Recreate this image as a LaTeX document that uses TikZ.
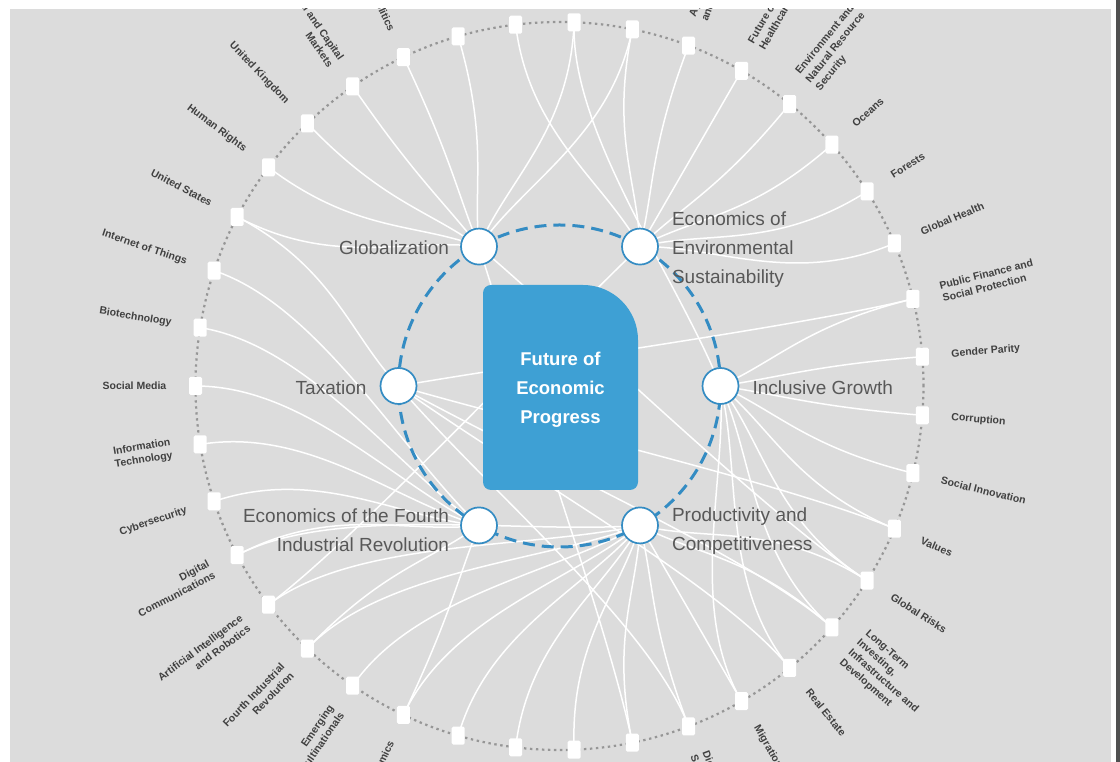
\documentclass[tikz,border=0pt]{standalone}
\usepackage{fontspec}
\setmainfont{Liberation Sans}
\usetikzlibrary{calc}
\definecolor{bg}{RGB}{220,220,220}
\definecolor{boxblue}{RGB}{62,160,212}
\definecolor{ringblue}{RGB}{52,140,195}
\definecolor{dotgray}{RGB}{150,150,150}
\definecolor{lbl}{RGB}{88,88,88}
\definecolor{olbl}{RGB}{64,64,64}
\definecolor{edge}{RGB}{80,80,80}
\begin{document}
\begin{tikzpicture}[x=1pt,y=1pt,
  conn/.style={white, line width=1.5pt},
  sq/.style={fill=white, draw=none, minimum width=13pt, minimum height=18pt, inner sep=0pt, rounded corners=1.5pt},
  hub/.style={circle, fill=white, draw=ringblue, line width=1.7pt, minimum size=36pt, inner sep=0pt},
  hublabel/.style={text=lbl, font=\fontsize{19}{29}\selectfont, inner sep=0pt},
  rlab/.style={text=olbl, font=\bfseries\fontsize{10.5}{13}\selectfont, inner sep=0pt, anchor=west, align=left},
  llab/.style={text=olbl, font=\bfseries\fontsize{10.5}{13}\selectfont, inner sep=0pt, anchor=east, align=right}]
\useasboundingbox (0,0) rectangle (1120,762);
\fill[white] (0,0) rectangle (1120,762);
\fill[bg] (10,0) rectangle (1111,753);
\fill[edge] (1116,0) rectangle (1120,762);

\coordinate (C) at (559.5,376);
\draw[dotgray, line width=2.2pt, dash pattern=on 2.4pt off 3.6pt] (C) circle[radius=364];

% outer squares positions
\foreach \k in {0,...,38}{
  \pgfmathsetmacro{\ang}{180-\k*360/39}
  \coordinate (s\k) at ($(C)+(\ang:364)$);
}
% hub positions
\coordinate (hG) at ($(C)+(120:161)$);
\coordinate (hE) at ($(C)+(60:161)$);
\coordinate (hI) at ($(C)+(0:161)$);
\coordinate (hP) at ($(C)+(-60:161)$);
\coordinate (hF) at ($(C)+(-120:161)$);
\coordinate (hT) at ($(C)+(180:161)$);

% connectors
\foreach \k/\h in {3/G,4/G,5/G,6/G,7/G,8/G,10/G,11/G,23/G,28/G,
  9/E,11/E,12/E,13/E,14/E,15/E,16/E,17/E,35/E,
  10/I,18/I,19/I,20/I,21/I,22/I,23/I,24/I,25/I,26/I,
  23/P,24/P,26/P,27/P,28/P,29/P,30/P,31/P,32/P,33/P,34/P,35/P,36/P,
  0/F,1/F,2/F,32/F,34/F,36/F,37/F,38/F,
  3/T,18/T,22/T,24/T,25/T,27/T}{
  \draw[conn] (s\k) .. controls ($(s\k)!0.3!(C)$) and ($(h\h)!0.3!(s\k)$) .. (h\h);
}

% squares
\foreach \k in {0,...,38}{
  \node[sq] (q\k) at (s\k) {};
}

% central box
\fill[boxblue] (483,469) -- (483,280) arc[start angle=180,end angle=270,radius=8]
  -- (630,272) arc[start angle=270,end angle=360,radius=8]
  -- (638,422) arc[start angle=0,end angle=90,radius=55]
  -- (491,477) arc[start angle=90,end angle=180,radius=8] -- cycle;
\node[text=white, font=\bfseries\fontsize{18.5}{29}\selectfont, align=center, inner sep=0pt] (core) at (560.5,372) {Future of\\Economic\\Progress};

% dashed ring
\draw[ringblue, line width=3pt, dash pattern=on 12pt off 7pt] (C) circle[radius=161];

% hubs
\node[hub] (G) at (hG) {};
\node[hub] (E) at (hE) {};
\node[hub] (I) at (hI) {};
\node[hub] (P) at (hP) {};
\node[hub] (F) at (hF) {};
\node[hub] (T) at (hT) {};

% hub labels
\node[hublabel, anchor=east] (lG) at ($(G.west)+(-11,-1.5)$) {Globalization};
\node[hublabel, anchor=west, align=left] (lE) at ($(E.east)+(13,-3)$) {Economics of\\Environmental\\Sustainability};
\node[hublabel, anchor=west] (lI) at ($(I.east)+(13,-2)$) {Inclusive Growth};
\node[hublabel, anchor=west, align=left] (lP) at ($(P.east)+(13,-5.5)$) {Productivity and\\Competitiveness};
\node[hublabel, anchor=east, align=right] (lF) at ($(F.west)+(-11,-4.5)$) {Economics of the Fourth\\Industrial Revolution};
\node[hublabel, anchor=east] (lT) at ($(T.west)+(-13,-2)$) {Taxation};

% outer labels
\begin{scope}
\clip (10,0) rectangle (1111,753);
\foreach \k/\t in {12/{Agriculture, Food\\and Beverage},13/{Future of Health and\\Healthcare},
  14/{Environment and\\Natural Resource\\Security},15/{Oceans},16/{Forests},17/{Global Health},
  18/{Public Finance and\\Social Protection},19/{Gender Parity},20/{Corruption},
  21/{Social Innovation},22/{Values},23/{Global Risks},
  24/{Long-Term\\Investing,\\Infrastructure and\\Development},25/{Real Estate},
  26/{Migration},27/{Digital Economy and\\Society}}{
  \pgfmathsetmacro{\ang}{180-\k*360/39}
  \node[rlab, rotate=\ang] (t\k) at ($(C)+(\ang:393)$) {\t};
}
\foreach \k/\t in {0/{Social Media},1/{Biotechnology},2/{Internet of Things},
  3/{United States},4/{Human Rights},5/{United Kingdom},
  6/{Financial and Capital\\Markets},7/{Geopolitics},
  32/{Geo-economics},33/{Emerging\\Multinationals},34/{Fourth Industrial\\Revolution},
  35/{Artificial Intelligence\\and Robotics},36/{Digital\\Communications},
  37/{Cybersecurity},38/{Information\\Technology}}{
  \pgfmathsetmacro{\ang}{180-\k*360/39}
  \pgfmathsetmacro{\rot}{\ang-180}
  \node[llab, rotate=\rot] (t\k) at ($(C)+(\ang:393)$) {\t};
}
\end{scope}
\end{tikzpicture}
\end{document}
